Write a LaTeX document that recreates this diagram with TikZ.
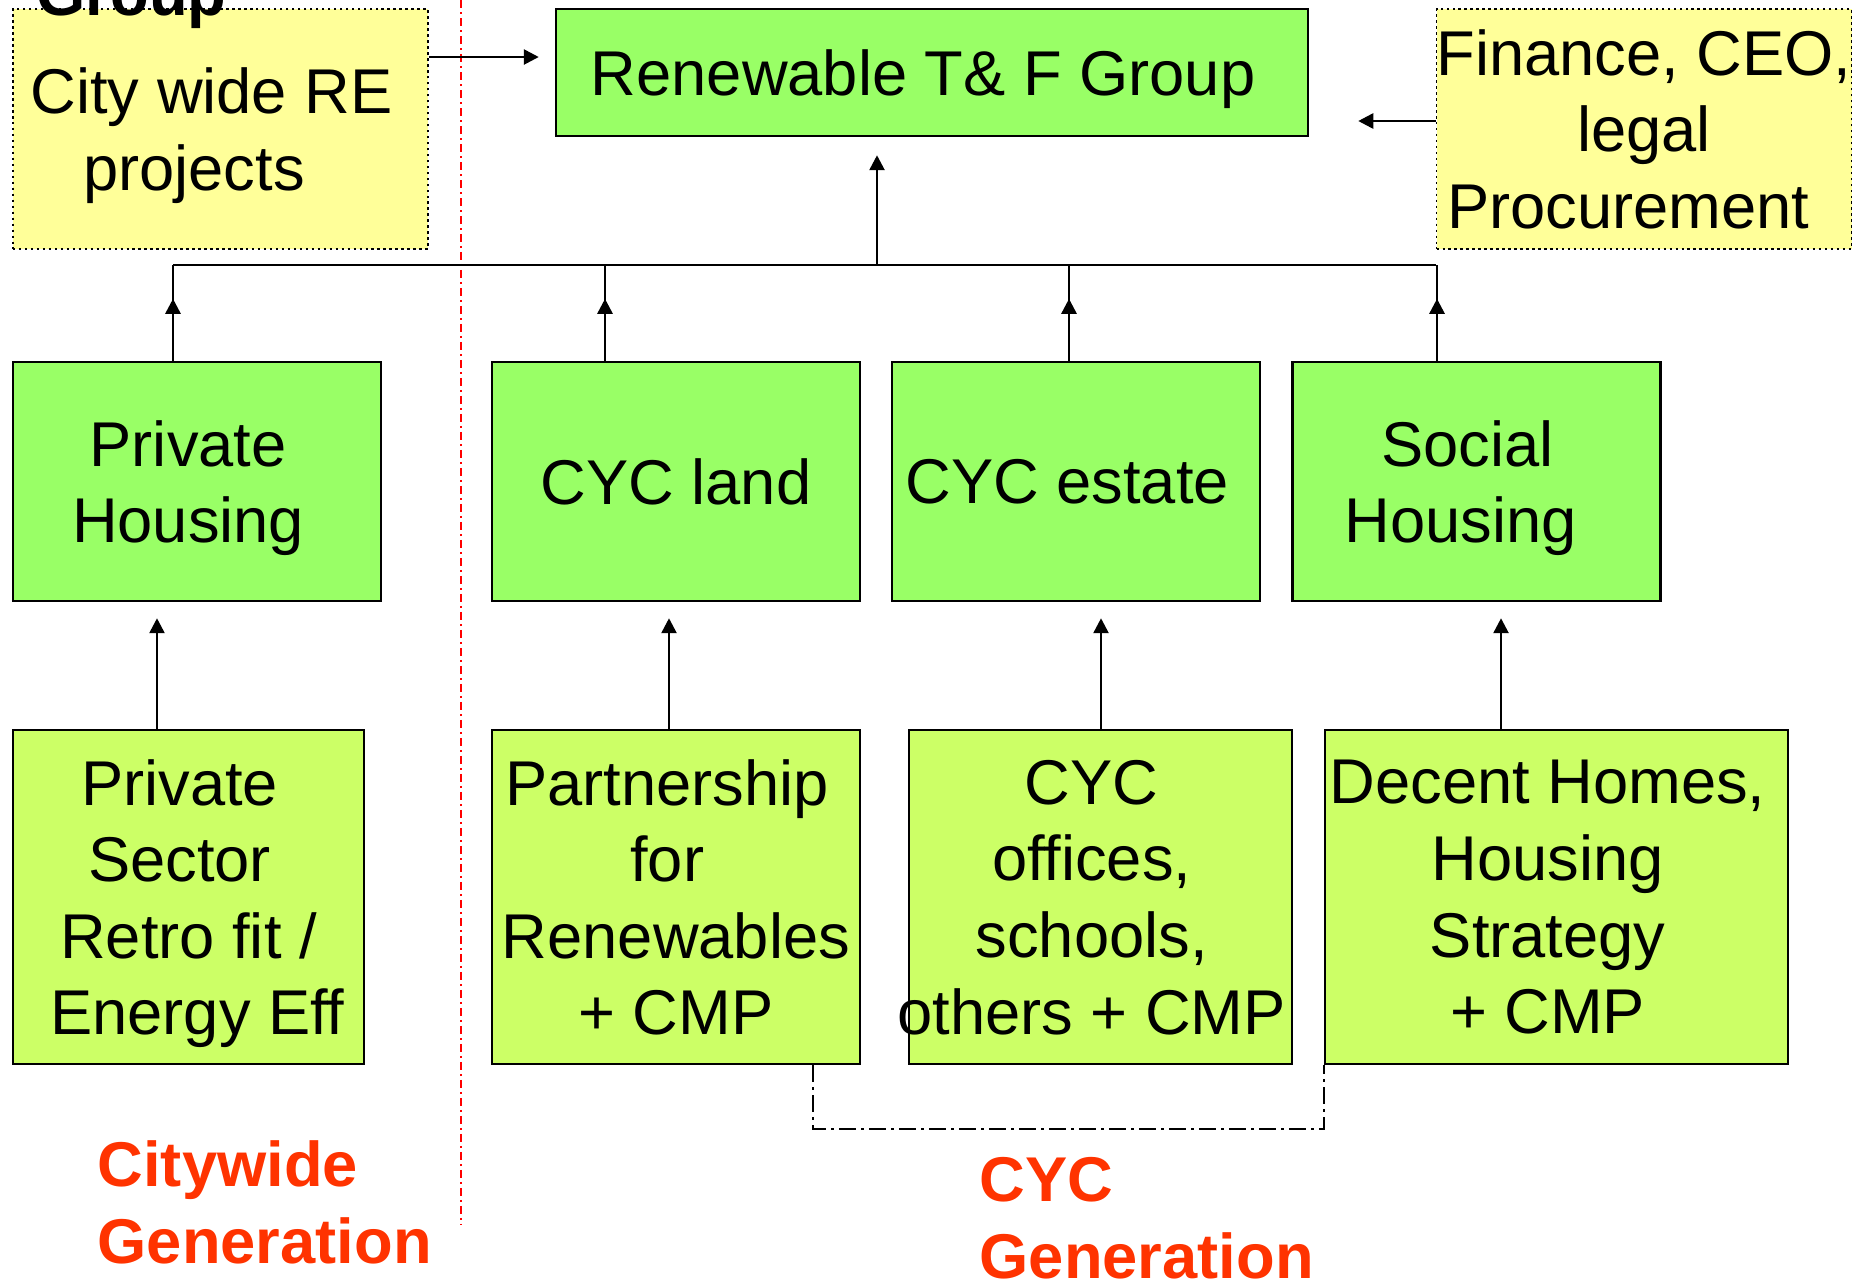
\documentclass[tikz,border=0pt]{standalone}
\usepackage{fontspec}
\setmainfont{Liberation Sans}
\usetikzlibrary{arrows.meta}

\definecolor{notebox}{HTML}{FFFF99}
\definecolor{groupgreen}{HTML}{99FF66}
\definecolor{taskgreen}{HTML}{CCFF66}
\definecolor{genred}{HTML}{FF3300}

\def\bary{-2.65}
\def\trail{\kern.28em}

\begin{document}
\begin{tikzpicture}
		\tikzstyle{box}=[draw=black,line width=0.7pt,inner sep=0pt,align=center,text depth=0pt,font=\fontsize{18}{21.8}\selectfont]
		\tikzstyle{note box}=[box,fill=notebox,densely dotted,line width=0.45pt,minimum width=4.15cm,minimum height=2.40cm]
		\tikzstyle{group box}=[box,fill=groupgreen,minimum width=3.68cm,minimum height=2.39cm]
		\tikzstyle{task box}=[box,fill=taskgreen,minimum height=3.34cm]
		\tikzstyle{link}=[line width=0.75pt,-{Triangle[length=0.15cm,width=0.15cm]}]
		\tikzstyle{gen label}=[anchor=base west,inner sep=0pt,align=left,text=genred,font=\fontsize{18}{21.8}\selectfont\bfseries]

		\useasboundingbox (0,0) rectangle (18.6,-12.81);

			% Draw the top row
		\node[note box] (RE) at (2.205,-1.29) {City wide RE\trail\\projects\kern.84em};
		\node[box,fill=groupgreen,minimum width=7.52cm,minimum height=1.27cm] (TF) at (9.32,-0.725) {Renewable T\& F Group\trail};
		\node[note box] (FIN) at (16.44,-1.29) {\makebox[0pt]{Finance, CEO,}\\legal\\Procurement\kern.5em};
		\node[anchor=base west,inner sep=0pt,font=\fontsize{18}{21.8}\selectfont\bfseries] (GRP) at (0.36,-0.155) {Group};

			% Draw the group boxes
		\foreach \name / \x / \txt in {PH/1.97/{Private\trail\\Housing\trail}, CL/6.76/{CYC land}, CE/10.76/{CYC estate\trail}, SH/14.765/{Social\trail\\Housing\kern.5em}}
		\node[group box] (\name) at (\x,-4.815) {\txt};

			% Draw the task boxes
		\foreach \name / \x / \w / \txt in {PS/1.885/3.51/{Private\trail\\Sector\trail\\Retro fit /\\\trail Energy Eff}, PR/6.76/3.68/{Partnership\trail\\for\trail\\Renewables\\+ CMP}, CO/11.005/3.83/{CYC\trail\\offices,\trail\\schools,\trail\\\makebox[0pt]{others + CMP\trail}}, DH/15.565/4.63/{Decent Homes,\trail\\Housing\trail\\Strategy\trail\\+ CMP\trail}}
		\node[task box,minimum width=\w cm] (\name) at (\x,-8.97) {\txt};

			% Divide citywide from CYC
		\draw[red,line width=0.6pt,dash pattern=on 0.08cm off 0.04cm on 0.02cm off 0.04cm] (4.61,0) -- (4.61,-12.24);

			% Connect the groups with the bus
		\coordinate (bus) at (8.77,\bary);
		\draw[line width=0.8pt] (1.73,\bary) -- (FIN.west |- bus);
		\foreach \name / \x in {PH/1.73, CL/6.05, CE/10.69, SH/14.37} {
		\draw[line width=0.75pt] (\x,0 |- \name.north) -- (\x,\bary);
		\draw[link] (\x,0 |- \name.north) -- ++(0,0.62);
		}
		\draw[link,shorten >=0.18cm] (bus) -- (bus |- TF.south);

			% Side inputs to the top group
		\draw[link,shorten >=0.16cm] (RE.east |- 0,-0.57) -- (TF.west |- 0,-0.57);
		\draw[link,shorten >=0.49cm] (FIN.west |- 0,-1.21) -- (TF.east |- 0,-1.21);

			% Connect every task with its group
		\foreach \source / \dest / \x in {PS/PH/1.57, PR/CL/6.69, CO/CE/11.01, DH/SH/15.01}
		\draw[link,shorten >=0.16cm] (\x,0 |- \source.north) -- (\x,0 |- \dest.south);

		\draw[line width=0.6pt,dash pattern=on 0.17cm off 0.05cm on 0.03cm off 0.05cm] (8.13,0 |- PR.south) -- (8.13,-11.29) -| (DH.south west);

			% Annotate the generation sides
		\node[gen label] (CWG) at (0.97,-12.63) {Citywide\\Generation};
		\node[gen label] (CYG) at (9.79,-12.78) {CYC\\Generation};
		\end{tikzpicture}
\end{document}
